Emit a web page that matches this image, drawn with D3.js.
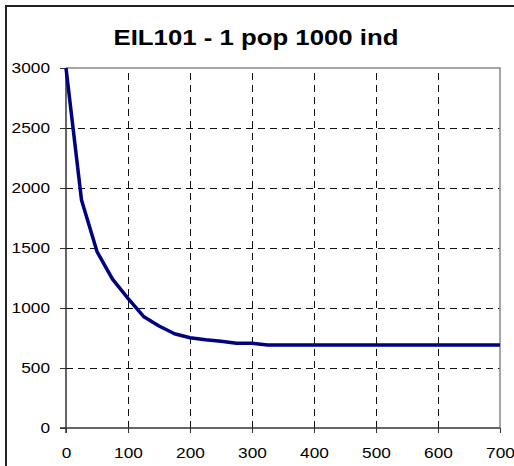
<!DOCTYPE html>
<html>
<head>
<meta charset="utf-8">
<script src="https://cdn.jsdelivr.net/npm/d3@7"></script>
<style>
  body { margin: 0; background: #fff; }
  svg { display: block; font-family: "Liberation Sans", Arial, sans-serif; }
</style>
</head>
<body>
<div class="graphContainer"></div>
<script>
// size of the page and the plot box
const w = 514;
const h = 466;
const m = { left: 66, right: 14, top: 68, bottom: 38 };

const title = "EIL101 - 1 pop 1000 ind";

// generations and best tour length
const gens = [0, 25, 50, 75, 100, 125, 150, 175, 200, 225, 250, 275, 300, 325,
              350, 375, 400, 425, 450, 475, 500, 525, 550, 575, 600, 625, 650, 675, 700];
const best = [3000, 1900, 1470, 1240, 1080, 930, 850, 785, 752, 735, 722, 706, 706, 691,
              691, 691, 691, 691, 691, 691, 691, 691, 691, 691, 691, 691, 691, 691, 691];

const xTicks = [0, 100, 200, 300, 400, 500, 600, 700];
const yTicks = [0, 500, 1000, 1500, 2000, 2500, 3000];

const svg = d3.select(".graphContainer").append("svg")
    .attr("width", w)
    .attr("height", h);

// outer chart frame (only left and top show)
svg.append("rect")
    .attr("x", 6).attr("y", 6)
    .attr("width", 700).attr("height", 700)
    .attr("fill", "none")
    .attr("stroke", "#222")
    .attr("stroke-width", 2);

const x = d3.scaleLinear().domain([0, 700]).range([m.left, w - m.right]);
const y = d3.scaleLinear().domain([0, 3000]).range([h - m.bottom, m.top]);

// dashed grid
svg.append("g")
    .attr("shape-rendering", "crispEdges")
  .selectAll("line")
  .data(xTicks.slice(1, -1))
  .join("line")
    .attr("x1", d => x(d)).attr("x2", d => x(d))
    .attr("y1", y(0)).attr("y2", y(3000))
    .attr("stroke", "#111")
    .attr("stroke-dasharray", "7,5");

svg.append("g")
    .attr("shape-rendering", "crispEdges")
  .selectAll("line")
  .data(yTicks.slice(1, -1))
  .join("line")
    .attr("x1", x(0)).attr("x2", x(700))
    .attr("y1", d => y(d)).attr("y2", d => y(d))
    .attr("stroke", "#111")
    .attr("stroke-dasharray", "7,5");

// top and right of the plot box
svg.append("path")
    .attr("d", `M${x(0)},${y(3000)}H${x(700)}V${y(0)}`)
    .attr("fill", "none")
    .attr("stroke", "#888")
    .attr("stroke-width", 1.5);

// axes, labels are stretched a little like the original
const labelFix = g => g.selectAll("text")
    .style("font-size", "15px")
    .attr("fill", "#000")
    .attr("font-family", null)
    .attr("textLength", d => String(d).length * 9.6)
    .attr("lengthAdjust", "spacingAndGlyphs");

const xAxis = d3.axisBottom(x).tickValues(xTicks).tickSize(5).tickPadding(14).tickFormat(d => String(d));
const yAxis = d3.axisLeft(y).tickValues(yTicks).tickSize(6).tickPadding(10).tickFormat(d => String(d));

svg.append("g")
    .attr("transform", `translate(0,${y(0)})`)
    .call(xAxis)
    .call(g => g.select(".domain").remove())
    .call(g => g.selectAll("line").attr("stroke", "#333"))
    .call(labelFix);

svg.append("g")
    .attr("transform", `translate(${x(0)},0)`)
    .call(yAxis)
    .call(g => g.select(".domain").remove())
    .call(g => g.selectAll("line").attr("stroke", "#333"))
    .call(labelFix);

// axis lines drawn over the ticks
svg.append("line")
    .attr("x1", x(0) - 6).attr("x2", x(700))
    .attr("y1", y(0)).attr("y2", y(0))
    .attr("stroke", "#333").attr("stroke-width", 1.5);
svg.append("line")
    .attr("x1", x(0)).attr("x2", x(0))
    .attr("y1", y(3000)).attr("y2", y(0) + 5)
    .attr("stroke", "#333").attr("stroke-width", 1.5);

// the curve
const line = d3.line()
    .x((d, i) => x(gens[i]))
    .y(d => y(d));

svg.append("path")
    .datum(best)
    .attr("d", line)
    .attr("fill", "none")
    .attr("stroke", "#000080")
    .attr("stroke-width", 3.5)
    .attr("stroke-linejoin", "round");

// title
svg.append("text")
    .attr("x", 256)
    .attr("y", 45)
    .attr("text-anchor", "middle")
    .attr("textLength", 285)
    .attr("lengthAdjust", "spacingAndGlyphs")
    .style("font-size", "22px")
    .style("font-weight", "bold")
    .text(title);
</script>
</body>
</html>
